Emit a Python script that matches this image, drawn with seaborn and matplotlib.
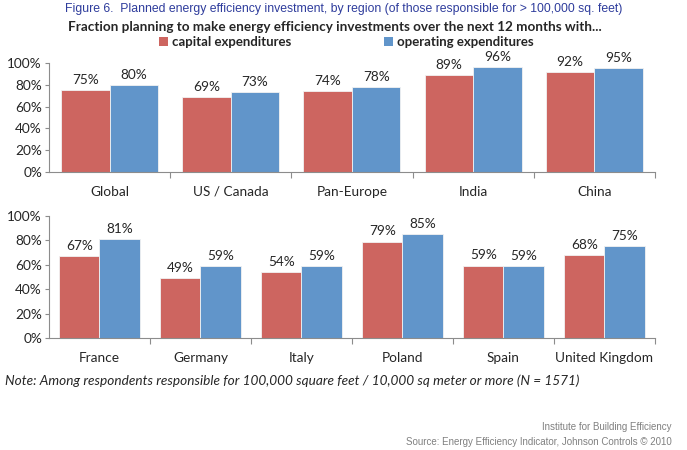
import matplotlib
matplotlib.use("Agg")
import matplotlib.pyplot as plt
import numpy as np
import pandas as pd
import seaborn as sns
from matplotlib.patches import Patch

# data
series = ["capital expenditures", "operating expenditures"]

regions = ["Global", "US / Canada", "Pan-Europe", "India", "China"]
regions_capex = [75, 69, 74, 89, 92]
regions_opex = [80, 73, 78, 96, 95]

countries = ["France", "Germany", "Italy", "Poland", "Spain", "United Kingdom"]
countries_capex = [67, 49, 54, 79, 59.4, 68]
countries_opex = [81, 59, 59, 85, 58.6, 75]

yticks = [0, 20, 40, 60, 80, 100]

RED = "#CD6560"
BLUE = "#6195CA"
GRID = "#8C8C8C"
palette = {series[0]: RED, series[1]: BLUE}

sns.set_theme(style="white")
plt.rcParams["font.family"] = ["Lato", "DejaVu Sans"]


def long_form(cats, capex, opex):
    return pd.DataFrame({
        "cat": cats + cats,
        "series": [series[0]] * len(cats) + [series[1]] * len(cats),
        "value": capex + opex,
    })


def draw_panel(ax, cats, capex, opex):
    df = long_form(cats, capex, opex)
    sns.barplot(data=df, x="cat", y="value", hue="series", palette=palette,
                width=0.8, ax=ax, legend=False, saturation=1,
                edgecolor="#F2F2F2", linewidth=0.6)
    n = len(cats)
    ax.set_xlim(-0.5, n - 0.5)
    ax.set_ylim(0, 100)
    ax.set_yticks(yticks)
    ax.set_yticklabels([f"{v}%" for v in yticks], fontsize=9.8)
    ax.set_xticks(range(n))
    ax.set_xticklabels(cats, fontsize=9.8)
    ax.set_xticks(np.arange(0.5, n, 1), minor=True)
    ax.tick_params(axis="x", which="major", length=0, pad=10)
    ax.tick_params(axis="x", which="minor", length=4, width=0.8,
                   color=GRID, direction="out", bottom=True)
    ax.tick_params(axis="y", length=3, width=0.8, color=GRID,
                   direction="out", left=True, pad=2)
    ax.set_xlabel("")
    ax.set_ylabel("")
    for s in ["top", "right"]:
        ax.spines[s].set_visible(False)
    for s in ["left", "bottom"]:
        ax.spines[s].set_color(GRID)
        ax.spines[s].set_linewidth(0.8)
    for cont in ax.containers:
        ax.bar_label(cont, fmt="%.0f%%", padding=3, fontsize=9.8)


fig = plt.figure(figsize=(6.87, 4.5), dpi=100)
ax1 = fig.add_axes([0.0713, 0.618, 0.882, 0.242])
ax2 = fig.add_axes([0.0713, 0.249, 0.882, 0.271])

draw_panel(ax1, regions, regions_capex, regions_opex)
draw_panel(ax2, countries, countries_capex, countries_opex)

fig.text(0.5, 1 - 9 / 450,
         "Figure 6.  Planned energy efficiency investment, by region "
         "(of those responsible for > 100,000 sq. feet)",
         ha="center", va="center", color="#2E3C9C", fontsize=8.8,
         family=["Liberation Sans Narrow", "Liberation Sans", "DejaVu Sans"])
fig.text(0.488, 1 - 27 / 450,
         "Fraction planning to make energy efficiency investments over the next 12 months with...",
         ha="center", va="center", fontsize=9.7, fontweight="bold")

handles = [Patch(facecolor=palette[s], edgecolor="none") for s in series]
leg = fig.legend(handles, series, loc="center", bbox_to_anchor=(0.504, 1 - 42 / 450),
                 ncol=2, frameon=False, handlelength=0.7, handleheight=0.7,
                 handletextpad=0.3, columnspacing=7.0,
                 prop={"size": 9.5, "weight": "bold"})

fig.text(5 / 687, 1 - 381 / 450,
         "Note: Among respondents responsible for 100,000 square feet / "
         "10,000 sq meter or more (N = 1571)",
         ha="left", va="center", fontsize=9.8, style="italic")

foot_font = ["Liberation Sans Narrow", "Liberation Sans", "DejaVu Sans"]
fig.text(672 / 687, 1 - 427 / 450, "Institute for Building Efficiency",
         ha="right", va="center", fontsize=7, color="#808080", family=foot_font)
fig.text(672 / 687, 1 - 442 / 450,
         "Source: Energy Efficiency Indicator, Johnson Controls \u00a9 2010",
         ha="right", va="center", fontsize=7, color="#808080", family=foot_font)

fig.savefig("out.png", dpi=100)
